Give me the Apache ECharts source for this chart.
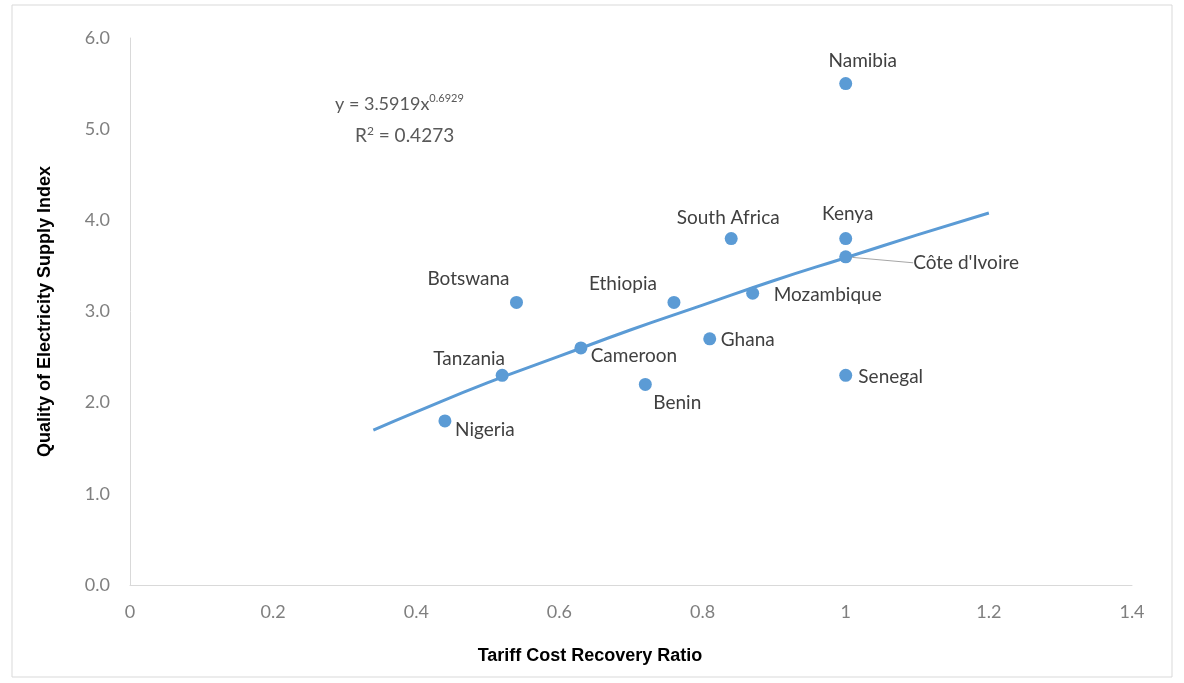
<!DOCTYPE html>
<html>
<head>
<meta charset="utf-8">
<script src="https://cdn.jsdelivr.net/npm/echarts@6/dist/echarts.min.js"></script>
<style>
  html, body { margin: 0; padding: 0; background: #fff; }
  #chart-container { width: 1184px; height: 683px; }
</style>
</head>
<body>
<div id="chart-container"></div>
<script>
// countries and their values
var countries = ['Namibia', 'South Africa', 'Kenya', "C\u00f4te d'Ivoire", 'Botswana', 'Ethiopia',
  'Mozambique', 'Ghana', 'Tanzania', 'Cameroon', 'Benin', 'Senegal', 'Nigeria'];
var recovery = [1.0, 0.84, 1.0, 1.0, 0.54, 0.76, 0.87, 0.81, 0.52, 0.63, 0.72, 1.0, 0.44];
var quality = [5.5, 3.8, 3.8, 3.6, 3.1, 3.1, 3.2, 2.7, 2.3, 2.6, 2.2, 2.3, 1.8];

// trend line
var trendX = [0.34, 0.4, 0.5, 0.6, 0.7, 0.8, 0.9, 1.0, 1.1, 1.2];
var trendY = [1.70, 1.90, 2.22, 2.51, 2.80, 3.07, 3.34, 3.59, 3.84, 4.08];

var xTicks = [0, 0.2, 0.4, 0.6, 0.8, 1, 1.2, 1.4];

// label shift from the dot centre, in px (style only)
var labelShift = {
  'Namibia': [17, -23],
  'South Africa': [-3, -21],
  'Kenya': [2, -25],
  "C\u00f4te d'Ivoire": [56, 6],
  'Botswana': [-48, -24],
  'Ethiopia': [-51, -19],
  'Mozambique': [75, 2],
  'Ghana': [38, 1],
  'Tanzania': [-33, -16],
  'Cameroon': [53, 8],
  'Benin': [32, 18],
  'Senegal': [45, 2],
  'Nigeria': [40, 9]
};

var dom = document.getElementById('chart-container');
var myChart = echarts.init(dom, null, { renderer: 'canvas' });

var points = countries.map(function (name, i) {
  var item = { name: name, value: [recovery[i], quality[i]] };
  if (name === "C\u00f4te d'Ivoire") {
    item.label = { position: 'right' };
    item.labelLine = { show: true, lineStyle: { color: '#a6a6a6', width: 1 } };
  }
  return item;
});

var tickFont = { color: '#7f7f7f', fontSize: 18, fontFamily: 'Lato' };
var titleFont = "'Liberation Sans Narrow', 'Liberation Sans', Arial, sans-serif";

var option = {
  animation: false,
  backgroundColor: '#fff',
  grid: { left: 130, right: 52, top: 38, bottom: 98 },
  xAxis: {
    type: 'value',
    min: 0,
    max: 1.4,
    interval: 0.2,
    name: 'Tariff Cost Recovery Ratio',
    nameLocation: 'middle',
    nameGap: 62,
    nameTextStyle: {
      color: '#000', fontSize: 18, fontWeight: 'bold',
      fontFamily: titleFont, padding: [0, 82, 0, 0]
    },
    axisLine: { show: true, lineStyle: { color: '#d9d9d9', width: 1 } },
    axisTick: { show: false },
    splitLine: { show: false },
    axisLabel: Object.assign({ margin: 18, formatter: function (v) {
      var hit = xTicks.filter(function (t) { return Math.abs(t - v) < 1e-6; });
      return hit.length ? String(hit[0]) : '';
    } }, tickFont)
  },
  yAxis: {
    type: 'value',
    min: 0,
    max: 6,
    interval: 1,
    name: 'Quality of Electricity Supply Index',
    nameLocation: 'middle',
    nameGap: 76,
    nameTextStyle: {
      color: '#000', fontSize: 18, fontWeight: 'bold',
      fontFamily: titleFont
    },
    axisLine: { show: true, lineStyle: { color: '#d9d9d9', width: 1 } },
    axisTick: { show: false },
    splitLine: { show: false },
    axisLabel: Object.assign({ margin: 20, formatter: function (v) { return v.toFixed(1); } }, tickFont)
  },
  graphic: [
    {
      type: 'rect',
      shape: { x: 12, y: 5, width: 1160, height: 672 },
      style: { fill: 'none', stroke: '#d9d9d9', lineWidth: 1 },
      silent: true
    },
    {
      type: 'text',
      left: 335,
      top: 93,
      style: {
        text: 'y = 3.5919x{s|0.6929}',
        fill: '#595959',
        font: '18px Lato',
        rich: { s: { fontSize: 11, fontFamily: 'Lato', fill: '#595959', padding: [0, 0, 12, 0] } }
      }
    },
    {
      type: 'text',
      left: 355,
      top: 125,
      style: {
        text: 'R{s|2} = 0.4273',
        fill: '#595959',
        font: '19px Lato',
        rich: { s: { fontSize: 12, fontFamily: 'Lato', fill: '#595959', padding: [0, 0, 9, 0] } }
      }
    }
  ],
  series: [
    {
      name: 'Trend',
      type: 'line',
      smooth: true,
      showSymbol: false,
      silent: true,
      lineStyle: { color: '#5b9bd5', width: 3 },
      data: trendX.map(function (x, i) { return [x, trendY[i]]; }),
      z: 1
    },
    {
      name: 'Countries',
      type: 'scatter',
      symbolSize: 13,
      itemStyle: { color: '#5b9bd5', opacity: 1 },
      label: {
        show: true,
        position: 'inside',
        formatter: '{b}',
        color: '#404040',
        fontSize: 19,
        fontFamily: 'Lato'
      },
      labelLayout: function (params) {
        var s = labelShift[countries[params.dataIndex]];
        return { dx: s[0], dy: s[1] };
      },
      data: points,
      z: 3
    }
  ]
};

myChart.setOption(option);
window.addEventListener('resize', myChart.resize);
</script>
</body>
</html>
